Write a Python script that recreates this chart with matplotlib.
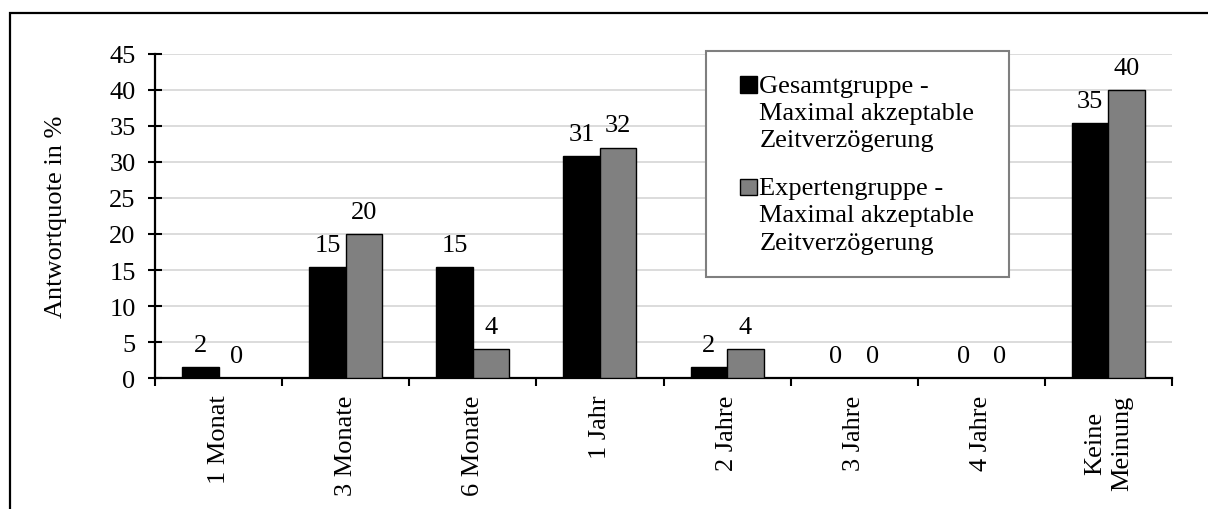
import matplotlib
matplotlib.use('Agg')
import matplotlib.pyplot as plt
import numpy as np
from matplotlib.patches import Rectangle

categories = ['1 Monat', '3 Monate', '6 Monate', '1 Jahr', '2 Jahre',
              '3 Jahre', '4 Jahre', 'Keine\nMeinung']
gesamt = [1.54, 15.38, 15.38, 30.77, 1.54, 0, 0, 35.38]
experten = [0, 20, 4, 32, 4, 0, 0, 40]
series_names = ['Gesamtgruppe -\nMaximal akzeptable\nZeitverzögerung',
                'Expertengruppe -\nMaximal akzeptable\nZeitverzögerung']
yticks = [0, 5, 10, 15, 20, 25, 30, 35, 40, 45]
ylabel = 'Antwortquote in %'

plt.rcParams['font.family'] = ['Liberation Serif', 'DejaVu Serif']
FS = 19
W, H = 1208, 510

fig = plt.figure(figsize=(W / 100, H / 100), dpi=100)
fig.patch.set_facecolor('white')

# outer frame (cut at right and bottom)
fig.patches.append(Rectangle((10 / W, -0.1), 1.2, 1 - 14 / H + 0.1,
                             transform=fig.transFigure, fill=False,
                             edgecolor='black', linewidth=1.6))

ax = fig.add_axes([155 / W, 1 - 379 / H, (1172 - 155) / W, (379 - 55) / H])
x = np.arange(len(categories))
w = 0.287
b1 = ax.bar(x - w / 2, gesamt, w, color='black', edgecolor='black',
            linewidth=1, label=series_names[0], zorder=3)
b2 = ax.bar(x + w / 2, experten, w, color='#808080', edgecolor='black',
            linewidth=1, label=series_names[1], zorder=3)

ax.bar_label(b1, labels=[f'{v:.0f}' for v in gesamt], padding=8, fontsize=FS)
ax.bar_label(b2, labels=[f'{v:.0f}' for v in experten], padding=8, fontsize=FS)

ax.set_xlim(-0.5, len(categories) - 0.5)
ax.set_ylim(0, 45)
ax.set_yticks(yticks)
ax.set_yticklabels([str(t) for t in yticks], fontsize=FS)
ax.tick_params(axis='y', direction='inout', length=10, width=1.5, pad=9)
ax.yaxis.grid(True, color='#d9d9d9', linewidth=1.3, zorder=0)
ax.set_axisbelow(True)

ax.set_xticks(np.arange(-0.5, len(categories), 1.0))
ax.set_xticklabels([])
ax.set_xticks(x, minor=True)
ax.set_xticklabels(categories, minor=True, rotation=90, fontsize=FS,
                   va='top', ha='center', multialignment='center')
for t in ax.get_xticklabels(minor=True):
    t.set_linespacing(1.3)
ax.tick_params(axis='x', which='major', direction='out', length=6, width=1.5)
ax.tick_params(axis='x', which='minor', length=0, pad=12)

for s in ['top', 'right']:
    ax.spines[s].set_visible(False)
for s in ['left', 'bottom']:
    ax.spines[s].set_linewidth(1.6)

ax.set_ylabel(ylabel, fontsize=FS)
ax.yaxis.set_label_coords((67 - 155) / (1172 - 155), 0.5)

leg = ax.legend(loc='upper left',
                bbox_to_anchor=(706 / W, 1 - 52 / H - 0.01, (1009 - 706) / W, 0.01),
                bbox_transform=fig.transFigure, borderaxespad=0, mode='expand',
                fancybox=False, framealpha=1, edgecolor='#7f7f7f',
                fontsize=FS, handlelength=1.02, handleheight=0.6,
                handletextpad=0.1, borderpad=0.9, labelspacing=1.0)
leg.get_frame().set_linewidth(1.5)
for t in leg.get_texts():
    t.set_linespacing(1.3)
sq = 0.62 * FS
for hnd in leg.legend_handles:
    full_w = hnd.get_width()
    hnd.set_x(hnd.get_x() + full_w - sq)
    hnd.set_width(sq)
    hnd.set_y(hnd.get_y() + 1.05 * FS)

fig.savefig('out.png', dpi=100, facecolor='white')
